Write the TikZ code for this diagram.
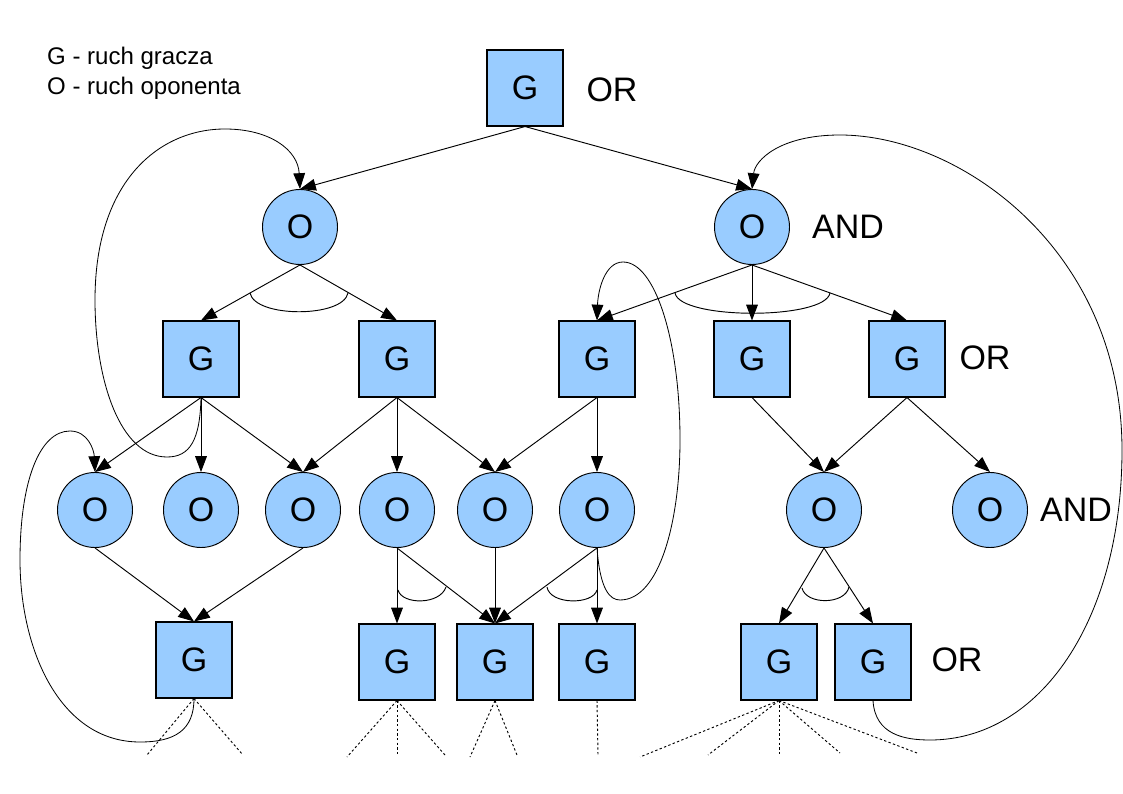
\documentclass[tikz,border=0pt]{standalone}
\usepackage{fontspec}
\setmainfont{Liberation Sans}
\usetikzlibrary{arrows.meta}
\definecolor{nodeblue}{HTML}{99CCFF}
\begin{document}
\begin{tikzpicture}[x=0.03cm,y=-0.03cm,
  gbox/.style={draw=black, line width=0.9pt, fill=nodeblue, minimum size=2.28cm, inner sep=0pt, font=\fontsize{29}{34}\selectfont},
  ocirc/.style={circle, draw=black, line width=0.8pt, fill=nodeblue, minimum size=2.25cm, inner sep=0pt, font=\fontsize{29}{34}\selectfont},
  lbl/.style={font=\fontsize{29}{34}\selectfont, inner sep=0pt},
  legend/.style={font=\fontsize{20.5}{24}\selectfont, inner sep=0pt, anchor=base west},
  edge/.style={line width=0.8pt, -{Triangle[length=13.5pt,width=10pt]}},
  backedge/.style={line width=0.7pt, -{Triangle[length=13.5pt,width=10pt]}},
  andarc/.style={line width=0.8pt},
  cont/.style={line width=0.8pt, dash pattern=on 2pt off 2pt}]
\useasboundingbox (0,0) rectangle (1123,794);

% legend
\node[legend] (leg1) at (47,64.3) {G - ruch gracza};
\node[legend] (leg2) at (47,95) {O - ruch oponenta};

% nodes
\node[gbox] (g0) at (525,88) {G};
\node[ocirc] (o1) at (300,227) {O};
\node[ocirc] (o2) at (752,227) {O};
\node[gbox] (g1) at (201,359) {G};
\node[gbox] (g2) at (397,359) {G};
\node[gbox] (g3) at (597,359) {G};
\node[gbox] (g4) at (752,359) {G};
\node[gbox] (g5) at (907,359) {G};
\node[ocirc] (oa) at (95,510) {O};
\node[ocirc] (ob) at (201,510) {O};
\node[ocirc] (oc) at (303,510) {O};
\node[ocirc] (od) at (397,510) {O};
\node[ocirc] (oe) at (495,510) {O};
\node[ocirc] (of) at (597,510) {O};
\node[ocirc] (og) at (824,510) {O};
\node[ocirc] (oh) at (990,510) {O};
\node[gbox] (ga) at (194,660) {G};
\node[gbox] (gb) at (397,662) {G};
\node[gbox] (gc) at (495,662) {G};
\node[gbox] (gd) at (597,662) {G};
\node[gbox] (ge) at (779,662) {G};
\node[gbox] (gf) at (873,662) {G};

% labels
\node[lbl] (l0) at (612,90) {OR};
\node[lbl] (l1) at (848,227) {AND};
\node[lbl] (l2) at (985,358) {OR};
\node[lbl] (l3) at (1076,510) {AND};
\node[lbl] (l4) at (957,660) {OR};

% edges
\draw[edge] (g0.south) -- (o1.north);
\draw[edge] (g0.south) -- (o2.north);
\draw[edge] (o1.south) -- (g1.north);
\draw[edge] (o1.south) -- (g2.north);
\draw[edge] (o2.south) -- (g3.north);
\draw[edge] (o2.south) -- (g4.north);
\draw[edge] (o2.south) -- (g5.north);
\draw[edge] (g1.south) -- (oa.north);
\draw[edge] (g1.south) -- (ob.north);
\draw[edge] (g1.south) -- (oc.north);
\draw[edge] (g2.south) -- (oc.north);
\draw[edge] (g2.south) -- (od.north);
\draw[edge] (g2.south) -- (oe.north);
\draw[edge] (g3.south) -- (oe.north);
\draw[edge] (g3.south) -- (of.north);
\draw[edge] (g4.south) -- (og.north);
\draw[edge] (g5.south) -- (og.north);
\draw[edge] (g5.south) -- (oh.north);
\draw[edge] (oa.south) -- (ga.north);
\draw[edge] (oc.south) -- (ga.north);
\draw[edge] (od.south) -- (gb.north);
\draw[edge] (od.south) -- (gc.north);
\draw[edge] (oe.south) -- (gc.north);
\draw[edge] (of.south) -- (gc.north);
\draw[edge] (of.south) -- (gd.north);
\draw[edge] (og.south) -- (ge.north);
\draw[edge] (og.south) -- (gf.north);

% AND arcs
\draw[andarc] (250,293) .. controls (255,318) and (343,318) .. (348,293);
\draw[andarc] (675,293) .. controls (680,320) and (825,320) .. (830,293);
\draw[andarc] (398,590) .. controls (402,605) and (440,605) .. (446,587);
\draw[andarc] (547,587) .. controls (550,605) and (593,605) .. (597,590);
\draw[andarc] (802,588) .. controls (806,605) and (845,605) .. (849,587);

% back edges
\draw[backedge] (g1.south) .. controls (200,440) and (190,457) .. (167,457)
  .. controls (120,457) and (95,380) .. (95,300)
  .. controls (95,180) and (160,129) .. (225,129)
  .. controls (270,129) and (298,150) .. (o1.north);
\draw[backedge] (ga.south) .. controls (194,730) and (175,742) .. (140,742)
  .. controls (60,742) and (20,650) .. (20,560)
  .. controls (20,480) and (40,431) .. (70,431)
  .. controls (88,431) and (94,450) .. (oa.north);
\draw[backedge] (of.south) .. controls (600,590) and (610,600) .. (620,600)
  .. controls (660,600) and (680,520) .. (680,440)
  .. controls (680,340) and (655,262) .. (623,262)
  .. controls (605,262) and (598,290) .. (g3.north);
\draw[backedge] (gf.south) .. controls (875,735) and (905,740) .. (930,740)
  .. controls (1040,740) and (1122,620) .. (1122,450)
  .. controls (1122,250) and (960,135) .. (840,135)
  .. controls (780,135) and (755,160) .. (o2.north);

% continuation (dotted)
\coordinate (ca1) at (147,755);
\coordinate (ca2) at (243,755);
\coordinate (cb1) at (347,757);
\coordinate (cb2) at (397,755);
\coordinate (cb3) at (445,755);
\coordinate (cc1) at (470,757);
\coordinate (cc2) at (517,755);
\coordinate (cd1) at (598,755);
\coordinate (ce1) at (640,757);
\coordinate (ce2) at (708,755);
\coordinate (ce3) at (779,755);
\coordinate (ce4) at (840,753);
\coordinate (ce5) at (917,753);
\foreach \c in {ca1,ca2} \draw[cont] (ga.south) -- (\c);
\foreach \c in {cb1,cb2,cb3} \draw[cont] (gb.south) -- (\c);
\foreach \c in {cc1,cc2} \draw[cont] (gc.south) -- (\c);
\draw[cont] (gd.south) -- (cd1);
\foreach \c in {ce1,ce2,ce3,ce4,ce5} \draw[cont] (ge.south) -- (\c);
\end{tikzpicture}
\end{document}
